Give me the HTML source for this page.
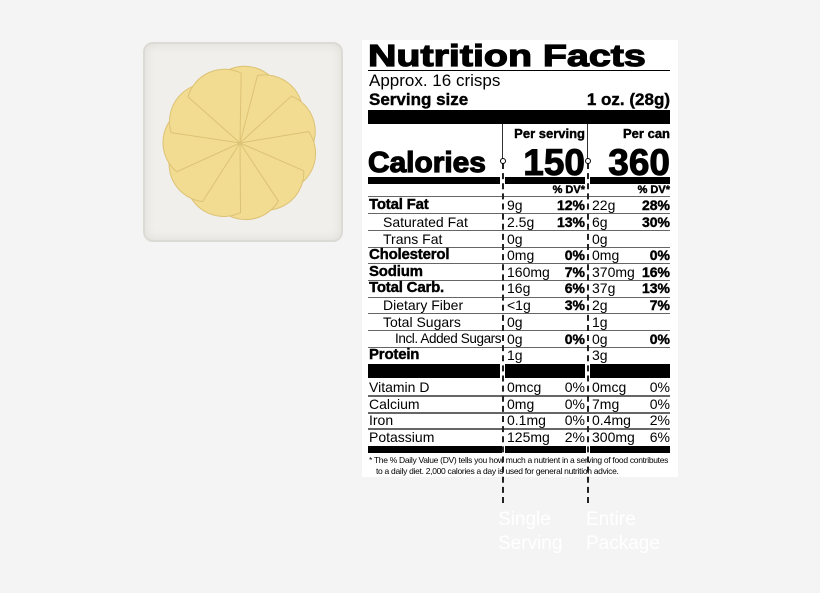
<!DOCTYPE html>
<html><head><meta charset="utf-8"><style>
*{margin:0;padding:0;box-sizing:border-box}
body{width:820px;height:593px;background:#f4f4f4;position:relative;overflow:hidden;font-family:"Liberation Sans",Arial,sans-serif;color:#000}
.a{position:absolute;white-space:nowrap;line-height:1}
.bar{position:absolute;background:#000}
.hl{position:absolute;height:1px;background:#666}
.t{font-size:14px}
.b{font-weight:bold;-webkit-text-stroke:0.4px #000}
.lb{font-size:15px;letter-spacing:-0.2px}
.r{text-align:right}
</style></head><body>
<!-- plate -->
<div class="a" style="left:143px;top:42px;width:200px;height:200px;background:#f0efeb;border:2px solid #dcdad4;border-radius:10px;box-shadow:inset 0 0 10px #dedcd6"></div>
<svg class="a" style="left:143px;top:42px" width="200" height="200">
<g transform="translate(97,101)">
<g fill="#f2dc92" stroke="#dcc274" stroke-width="1">
<path d="M0,0 L-22,-66 A38,38 0 0 1 36,-60 Z" transform="rotate(0)"/>
<path d="M0,0 L-22,-66 A38,38 0 0 1 36,-60 Z" transform="rotate(33)"/>
<path d="M0,0 L-22,-66 A38,38 0 0 1 36,-60 Z" transform="rotate(66)"/>
<path d="M0,0 L-22,-66 A38,38 0 0 1 36,-60 Z" transform="rotate(99)"/>
<path d="M0,0 L-22,-66 A38,38 0 0 1 36,-60 Z" transform="rotate(132)"/>
<path d="M0,0 L-22,-66 A38,38 0 0 1 36,-60 Z" transform="rotate(165)"/>
<path d="M0,0 L-22,-66 A38,38 0 0 1 36,-60 Z" transform="rotate(198)"/>
<path d="M0,0 L-22,-66 A38,38 0 0 1 36,-60 Z" transform="rotate(231)"/>
<path d="M0,0 L-22,-66 A38,38 0 0 1 36,-60 Z" transform="rotate(264)"/>
<path d="M0,0 L-22,-66 A38,38 0 0 1 36,-60 Z" transform="rotate(297)"/>
<path d="M0,0 L-22,-66 A38,38 0 0 1 36,-60 Z" transform="rotate(330)"/>
</g></g></svg>

<!-- label -->
<div class="a" style="left:362px;top:40px;width:316px;height:437px;background:#fff"></div>
<div class="a b" style="left:368px;top:40px;font-size:31px;-webkit-text-stroke:1.2px #000;transform:scaleX(1.27);transform-origin:left">Nutrition Facts</div>
<div class="hl" style="left:368px;top:70px;width:302px;background:#000"></div>
<div class="a" style="left:369px;top:72px;font-size:17px">Approx. 16 crisps</div>
<div class="a b" style="left:369px;top:91px;font-size:17px">Serving size</div>
<div class="a b r" style="left:520px;top:91px;width:150px;font-size:17px">1 oz. (28g)</div>
<div class="bar" style="left:368px;top:110px;width:302px;height:14px"></div>

<div class="a b r" style="left:505px;top:127px;width:80px;font-size:13px">Per serving</div>
<div class="a b r" style="left:590px;top:127px;width:80px;font-size:13px">Per can</div>
<div class="a b" style="left:368px;top:149px;font-size:29px;-webkit-text-stroke:1.2px #000;transform:scaleX(1.03);transform-origin:left">Calories</div>
<div class="a b r" style="left:505px;top:144px;width:80px;font-size:37px;-webkit-text-stroke:1px #000">150</div>
<div class="a b r" style="left:590px;top:144px;width:80px;font-size:37px;-webkit-text-stroke:1px #000">360</div>
<div class="bar" style="left:368px;top:177px;width:132px;height:7px"></div>
<div class="bar" style="left:505px;top:177px;width:80px;height:7px"></div>
<div class="bar" style="left:590px;top:177px;width:80px;height:7px"></div>
<div class="a b r" style="left:505px;top:185px;width:80px;font-size:11px">% DV*</div>
<div class="a b r" style="left:590px;top:185px;width:80px;font-size:11px">% DV*</div>

<div class="hl" style="left:368px;top:196px;width:302px"></div>
<div class="hl" style="left:368px;top:213px;width:302px"></div>
<div class="hl" style="left:368px;top:230px;width:302px"></div>
<div class="hl" style="left:368px;top:247px;width:302px"></div>
<div class="hl" style="left:368px;top:263px;width:302px"></div>
<div class="hl" style="left:368px;top:280px;width:302px"></div>
<div class="hl" style="left:368px;top:297px;width:302px"></div>
<div class="hl" style="left:368px;top:313px;width:302px"></div>
<div class="hl" style="left:368px;top:330px;width:302px"></div>
<div class="hl" style="left:368px;top:347px;width:302px"></div>

<div class="a b lb" style="left:369px;top:197px">Total Fat</div>
<div class="a b lb" style="left:369px;top:247px">Cholesterol</div>
<div class="a b lb" style="left:369px;top:264px">Sodium</div>
<div class="a b lb" style="left:369px;top:280px">Total Carb.</div>
<div class="a b lb" style="left:369px;top:347px">Protein</div>
<div class="a t" style="left:383px;top:215px">Saturated Fat</div>
<div class="a t" style="left:383px;top:232px">Trans Fat</div>
<div class="a t" style="left:383px;top:298px">Dietary Fiber</div>
<div class="a t" style="left:383px;top:315px">Total Sugars</div>
<div class="a" style="left:395px;top:332px;font-size:13.5px;letter-spacing:-0.4px">Incl. Added Sugars</div>

<div class="a t" style="left:507px;top:198px">9g</div><div class="a t b r" style="left:540px;top:198px;width:45px">12%</div>
<div class="a t" style="left:507px;top:215px">2.5g</div><div class="a t b r" style="left:540px;top:215px;width:45px">13%</div>
<div class="a t" style="left:507px;top:232px">0g</div>
<div class="a t" style="left:507px;top:248px">0mg</div><div class="a t b r" style="left:540px;top:248px;width:45px">0%</div>
<div class="a t" style="left:507px;top:265px">160mg</div><div class="a t b r" style="left:540px;top:265px;width:45px">7%</div>
<div class="a t" style="left:507px;top:281px">16g</div><div class="a t b r" style="left:540px;top:281px;width:45px">6%</div>
<div class="a t" style="left:507px;top:298px">&lt;1g</div><div class="a t b r" style="left:540px;top:298px;width:45px">3%</div>
<div class="a t" style="left:507px;top:315px">0g</div>
<div class="a t" style="left:507px;top:332px">0g</div><div class="a t b r" style="left:540px;top:332px;width:45px">0%</div>
<div class="a t" style="left:507px;top:348px">1g</div>

<div class="a t" style="left:592px;top:198px">22g</div><div class="a t b r" style="left:625px;top:198px;width:45px">28%</div>
<div class="a t" style="left:592px;top:215px">6g</div><div class="a t b r" style="left:625px;top:215px;width:45px">30%</div>
<div class="a t" style="left:592px;top:232px">0g</div>
<div class="a t" style="left:592px;top:248px">0mg</div><div class="a t b r" style="left:625px;top:248px;width:45px">0%</div>
<div class="a t" style="left:592px;top:265px">370mg</div><div class="a t b r" style="left:625px;top:265px;width:45px">16%</div>
<div class="a t" style="left:592px;top:281px">37g</div><div class="a t b r" style="left:625px;top:281px;width:45px">13%</div>
<div class="a t" style="left:592px;top:298px">2g</div><div class="a t b r" style="left:625px;top:298px;width:45px">7%</div>
<div class="a t" style="left:592px;top:315px">1g</div>
<div class="a t" style="left:592px;top:332px">0g</div><div class="a t b r" style="left:625px;top:332px;width:45px">0%</div>
<div class="a t" style="left:592px;top:348px">3g</div>

<div class="bar" style="left:368px;top:364px;width:132px;height:14px"></div>
<div class="bar" style="left:505px;top:364px;width:80px;height:14px"></div>
<div class="bar" style="left:590px;top:364px;width:80px;height:14px"></div>

<div class="hl" style="left:368px;top:395px;width:302px;height:2px"></div>
<div class="hl" style="left:368px;top:412px;width:302px;height:2px"></div>
<div class="hl" style="left:368px;top:428px;width:302px;height:2px"></div>
<div class="a t" style="left:369px;top:380px">Vitamin D</div>
<div class="a t" style="left:369px;top:397px">Calcium</div>
<div class="a t" style="left:369px;top:413px">Iron</div>
<div class="a t" style="left:369px;top:430px">Potassium</div>
<div class="a t" style="left:507px;top:380px">0mcg</div><div class="a t r" style="left:540px;top:380px;width:45px">0%</div>
<div class="a t" style="left:507px;top:397px">0mg</div><div class="a t r" style="left:540px;top:397px;width:45px">0%</div>
<div class="a t" style="left:507px;top:413px">0.1mg</div><div class="a t r" style="left:540px;top:413px;width:45px">0%</div>
<div class="a t" style="left:507px;top:430px">125mg</div><div class="a t r" style="left:540px;top:430px;width:45px">2%</div>
<div class="a t" style="left:592px;top:380px">0mcg</div><div class="a t r" style="left:625px;top:380px;width:45px">0%</div>
<div class="a t" style="left:592px;top:397px">7mg</div><div class="a t r" style="left:625px;top:397px;width:45px">0%</div>
<div class="a t" style="left:592px;top:413px">0.4mg</div><div class="a t r" style="left:625px;top:413px;width:45px">2%</div>
<div class="a t" style="left:592px;top:430px">300mg</div><div class="a t r" style="left:625px;top:430px;width:45px">6%</div>

<div class="bar" style="left:368px;top:446px;width:134px;height:7px"></div>
<div class="bar" style="left:505px;top:446px;width:81px;height:7px"></div>
<div class="bar" style="left:590px;top:446px;width:80px;height:7px"></div>
<div class="a" style="left:369px;top:456px;font-size:8.5px;letter-spacing:-0.3px">* The % Daily Value (DV) tells you how much a nutrient in a serving of food contributes</div>
<div class="a" style="left:376px;top:467px;font-size:8.5px;letter-spacing:-0.3px">to a daily diet. 2,000 calories a day is used for general nutrition advice.</div>

<div class="a" style="left:502px;top:163px;height:340px;border-left:2px dashed #222"></div>
<div class="a" style="left:587px;top:163px;height:340px;border-left:2px dashed #222"></div>
<div class="a" style="left:502px;top:124px;height:36px;border-left:1px solid #333"></div>
<div class="a" style="left:587px;top:124px;height:36px;border-left:1px solid #333"></div>
<div class="a" style="left:500px;top:158px;width:6px;height:6px;border:1px solid #000;border-radius:50%;background:#fff"></div>
<div class="a" style="left:585px;top:158px;width:6px;height:6px;border:1px solid #000;border-radius:50%;background:#fff"></div>

<div class="a" style="left:498px;top:508px;font-size:19px;color:#fff;line-height:24px">Single<br>Serving</div>
<div class="a" style="left:586px;top:508px;font-size:19px;color:#fff;line-height:24px">Entire<br>Package</div>
</body></html>
